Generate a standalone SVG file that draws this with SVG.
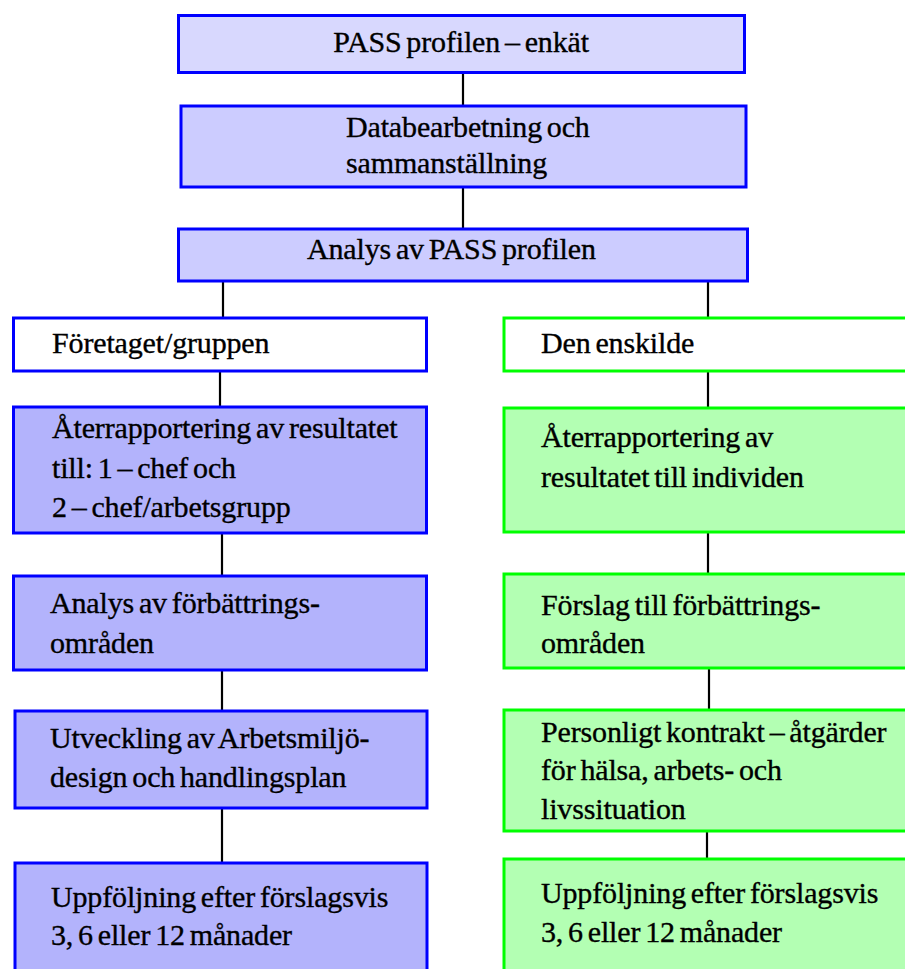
<svg xmlns="http://www.w3.org/2000/svg" width="905" height="969" viewBox="0 0 905 969">
<style>
.t{font-family:'Liberation Serif','Times New Roman',Tinos,'DejaVu Serif',serif;font-size:30px;fill:#000;stroke:#000;stroke-width:0.35;word-spacing:-2.5px;letter-spacing:-0.15px}
.b{stroke:#0000ff;stroke-width:3}
.g{stroke:#00ff00;stroke-width:3;fill:#b3ffb3}
.lb{fill:#b3b3fc}
.c{stroke:#000;stroke-width:2.2;fill:none}
</style>
<rect width="905" height="969" fill="#fff"/>
<g id="connectors">
<line class="c" x1="463" y1="73" x2="463" y2="106"/>
<line class="c" x1="463" y1="187" x2="463" y2="229"/>
<line class="c" x1="223" y1="281" x2="223" y2="318"/>
<line class="c" x1="708" y1="281" x2="708" y2="318"/>
<line class="c" x1="220" y1="371" x2="220" y2="407"/>
<line class="c" x1="222" y1="533" x2="222" y2="576"/>
<line class="c" x1="222" y1="670" x2="222" y2="711"/>
<line class="c" x1="222" y1="808" x2="222" y2="863"/>
<line class="c" x1="708" y1="371" x2="708" y2="408"/>
<line class="c" x1="708" y1="532" x2="708" y2="574"/>
<line class="c" x1="709" y1="668" x2="709" y2="710"/>
<line class="c" x1="707" y1="831" x2="707" y2="859"/>
</g>
<g id="n1"><rect class="b" x="178.5" y="15.5" width="566" height="57" fill="#d8d8fe"/><text class="t" x="461" y="52" text-anchor="middle">PASS profilen – enkät</text></g>
<g id="n2"><rect class="b" x="181" y="106" width="565" height="81" fill="#ccccff"/><text class="t" x="346" y="137">Databearbetning och</text><text class="t" x="346" y="173">sammanställning</text></g>
<g id="n3"><rect class="b" x="178.5" y="229" width="569" height="52" fill="#ccccff"/><text class="t" x="307" y="259">Analys av PASS profilen</text></g>
<g id="l1"><rect class="b" x="13.5" y="318" width="413" height="53" fill="#fff"/><text class="t" x="52" y="353">Företaget/gruppen</text></g>
<g id="l2"><rect class="b lb" x="13.5" y="407" width="413" height="126"/><text class="t" x="52" y="438">Återrapportering av resultatet</text><text class="t" x="52" y="478">till: 1 – chef och</text><text class="t" x="52" y="517">2 – chef/arbetsgrupp</text></g>
<g id="l3"><rect class="b lb" x="13.5" y="576" width="413" height="94"/><text class="t" x="50" y="613">Analys av förbättrings-</text><text class="t" x="50" y="653">områden</text></g>
<g id="l4"><rect class="b lb" x="15" y="711" width="412" height="97"/><text class="t" x="50" y="748">Utveckling av Arbetsmiljö-</text><text class="t" x="50" y="787">design och handlingsplan</text></g>
<g id="l5"><rect class="b lb" x="15" y="863" width="412" height="120"/><text class="t" x="51" y="907">Uppföljning efter förslagsvis</text><text class="t" x="51" y="945">3, 6 eller 12 månader</text></g>
<g id="r1"><rect x="504" y="318" width="420" height="53" fill="#fff" stroke="#00ff00" stroke-width="3"/><text class="t" x="541" y="353">Den enskilde</text></g>
<g id="r2"><rect class="g" x="504" y="408" width="420" height="124"/><text class="t" x="541" y="447">Återrapportering av</text><text class="t" x="541" y="487">resultatet till individen</text></g>
<g id="r3"><rect class="g" x="504" y="574" width="420" height="94"/><text class="t" x="541" y="615">Förslag till förbättrings-</text><text class="t" x="541" y="653">områden</text></g>
<g id="r4"><rect class="g" x="504" y="710" width="420" height="121"/><text class="t" x="541" y="742">Personligt kontrakt – åtgärder</text><text class="t" x="541" y="780">för hälsa, arbets- och</text><text class="t" x="541" y="819">livssituation</text></g>
<g id="r5"><rect class="g" x="504" y="859" width="420" height="130"/><text class="t" x="541" y="903">Uppföljning efter förslagsvis</text><text class="t" x="541" y="942">3, 6 eller 12 månader</text></g>
</svg>
